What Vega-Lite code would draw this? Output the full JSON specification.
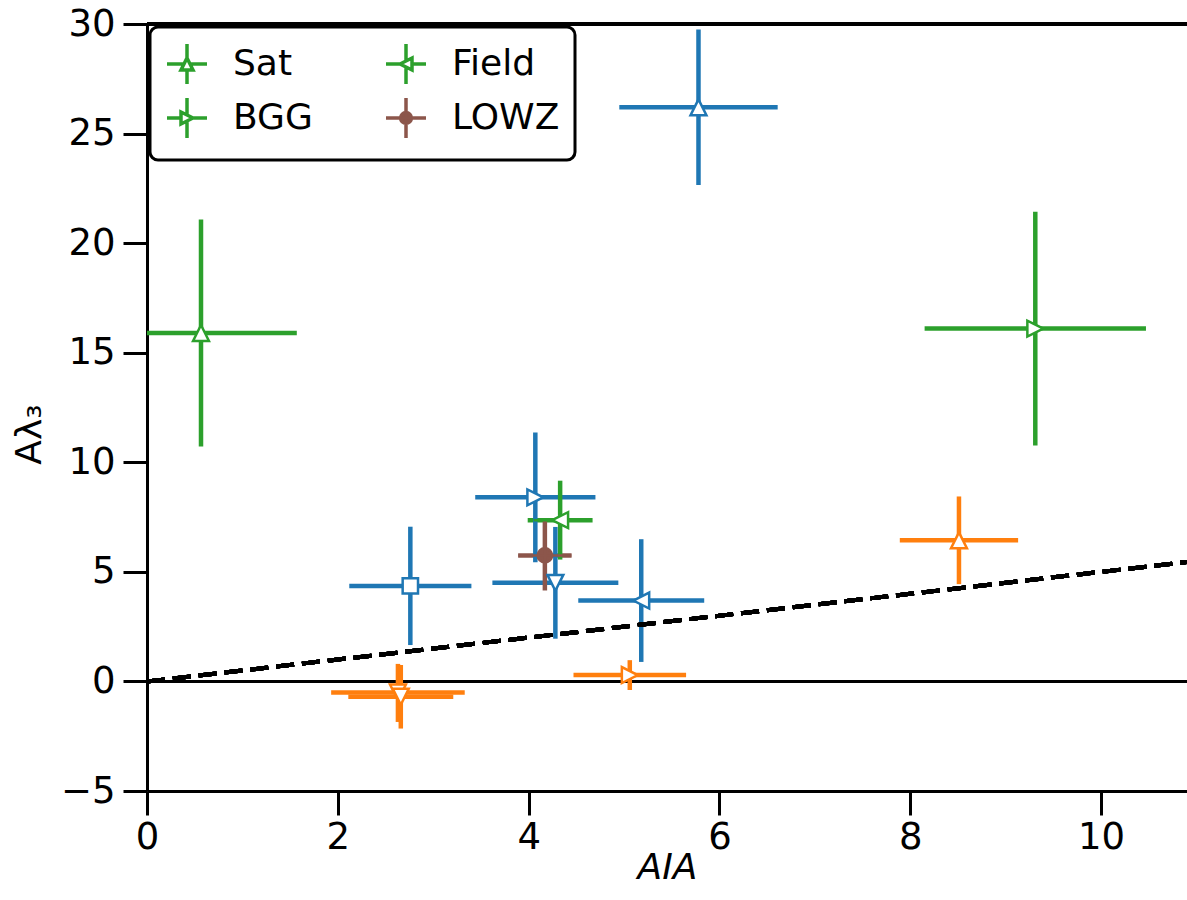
{
  "$schema": "https://vega.github.io/schema/vega-lite/v6.json",
  "autosize": {"type": "none"},
  "padding": {"left": 147, "top": 24, "right": 0, "bottom": 109},
  "width": 1040,
  "height": 767,
  "background": "white",
  "config": {
    "view": {"stroke": null},
    "font": "DejaVu Sans",
    "axis": {
      "grid": false,
      "labelFlush": false,
      "domainColor": "black",
      "domainWidth": 3,
      "tickColor": "black",
      "tickWidth": 3,
      "tickSize": 24,
      "labelFont": "DejaVu Sans",
      "labelFontSize": 37,
      "labelColor": "black",
      "titleFont": "DejaVu Sans",
      "titleFontSize": 36,
      "titleFontWeight": "normal",
      "titleColor": "black"
    },
    "legend": {"strokeWidth": 3}
  },
  "data": {
    "values": [
      {"lab": "b_up", "x": 5.78, "y": 26.2, "xlo": 4.95, "xhi": 6.61, "ylo": 22.65, "yhi": 29.75},
      {"lab": "b_sq", "x": 2.76, "y": 4.36, "xlo": 2.12, "xhi": 3.4, "ylo": 1.66, "yhi": 7.06},
      {"lab": "b_right", "x": 4.07, "y": 8.4, "xlo": 3.44, "xhi": 4.7, "ylo": 5.44, "yhi": 11.36},
      {"lab": "b_down", "x": 4.28, "y": 4.5, "xlo": 3.62, "xhi": 4.94, "ylo": 1.95, "yhi": 7.05},
      {"lab": "b_left", "x": 5.18, "y": 3.69, "xlo": 4.52, "xhi": 5.84, "ylo": 0.89, "yhi": 6.49},
      {"lab": "o_up", "x": 8.51, "y": 6.44, "xlo": 7.89, "xhi": 9.13, "ylo": 4.44, "yhi": 8.44},
      {"lab": "o_right", "x": 5.06, "y": 0.29, "xlo": 4.47, "xhi": 5.65, "ylo": -0.39, "yhi": 0.97},
      {"lab": "o_down", "x": 2.63, "y": -0.5, "xlo": 1.93, "xhi": 3.33, "ylo": -1.85, "yhi": 0.8},
      {"lab": "o_down", "x": 2.66, "y": -0.7, "xlo": 2.11, "xhi": 3.21, "ylo": -2.15, "yhi": 0.75},
      {"lab": "Sat", "x": 0.566, "y": 15.9, "xlo": -0.43, "xhi": 1.57, "ylo": 10.72, "yhi": 21.08},
      {"lab": "BGG", "x": 9.31, "y": 16.1, "xlo": 8.15, "xhi": 10.47, "ylo": 10.77, "yhi": 21.43},
      {"lab": "Field", "x": 4.33, "y": 7.36, "xlo": 3.99, "xhi": 4.67, "ylo": 5.56, "yhi": 9.16},
      {"lab": "LOWZ", "x": 4.17, "y": 5.75, "xlo": 3.89, "xhi": 4.45, "ylo": 4.15, "yhi": 7.35}
    ]
  },
  "layer": [
    {
      "mark": {"type": "rule", "color": "black", "strokeWidth": 2},
      "encoding": {"y": {"datum": 0, "type": "quantitative"}}
    },
    {
      "mark": {"type": "rule", "color": "black", "strokeWidth": 3},
      "encoding": {"y": {"datum": 30, "type": "quantitative"}}
    },
    {
      "mark": {"type": "rule", "strokeWidth": 4.5, "strokeCap": "butt", "clip": true},
      "encoding": {
        "x": {"field": "xlo", "type": "quantitative", "scale": {"domain": [0, 10.9], "nice": false, "zero": false},
          "axis": {"values": [0, 2, 4, 6, 8, 10], "format": "d", "title": "AIA", "titleFontStyle": "italic", "labelPadding": 4, "titlePadding": -5}},
        "x2": {"field": "xhi"},
        "y": {"field": "y", "type": "quantitative", "scale": {"domain": [-5, 30], "nice": false, "zero": false},
          "axis": {"values": [-5, 0, 5, 10, 15, 20, 25, 30], "format": "d", "title": "Aλ₃", "labelPadding": 8, "titlePadding": 12, "titleY": 410}},
        "color": {"field": "lab", "type": "nominal", "legend": null,
          "scale": {"domain": ["b_up", "b_sq", "b_right", "b_down", "b_left", "o_up", "o_right", "o_down", "Sat", "Field", "BGG", "LOWZ"],
            "range": ["#1f77b4", "#1f77b4", "#1f77b4", "#1f77b4", "#1f77b4", "#ff7f0e", "#ff7f0e", "#ff7f0e", "#2ca02c", "#2ca02c", "#2ca02c", "#8c564b"]}}
      }
    },
    {
      "mark": {"type": "rule", "strokeWidth": 4.5, "strokeCap": "butt", "clip": true},
      "encoding": {
        "x": {"field": "x", "type": "quantitative"},
        "y": {"field": "ylo", "type": "quantitative"},
        "y2": {"field": "yhi"},
        "color": {"field": "lab", "type": "nominal", "legend": null}
      }
    },
    {
      "mark": {"type": "point", "size": 2800, "strokeWidth": 2.5, "opacity": 1},
      "encoding": {
        "x": {"field": "x", "type": "quantitative"},
        "y": {"field": "y", "type": "quantitative"},
        "stroke": {"field": "lab", "type": "nominal",
          "scale": {"domain": ["Sat", "Field", "BGG", "LOWZ", "b_up", "b_sq", "b_right", "b_down", "b_left", "o_up", "o_right", "o_down"],
            "range": ["#2ca02c", "#2ca02c", "#2ca02c", "#8c564b", "#1f77b4", "#1f77b4", "#1f77b4", "#1f77b4", "#1f77b4", "#ff7f0e", "#ff7f0e", "#ff7f0e"]}},
        "fill": {"field": "lab", "type": "nominal",
          "scale": {"domain": ["Sat", "Field", "BGG", "LOWZ", "b_up", "b_sq", "b_right", "b_down", "b_left", "o_up", "o_right", "o_down"],
            "range": ["white", "white", "white", "#8c564b", "white", "white", "white", "white", "white", "white", "white", "white"]}},
        "shape": {"field": "lab", "type": "nominal",
          "scale": {"domain": ["Sat", "Field", "BGG", "LOWZ", "b_up", "b_sq", "b_right", "b_down", "b_left", "o_up", "o_right", "o_down"],
            "range": [
              "M-1,0L-0.15,0M0.15,0L1,0M0,-1L0,-0.3M0,0.3L0,1M0,-0.3L0.3,0.3L-0.3,0.3Z",
              "M-1,0L-0.3,0M0.3,0L1,0M0,-1L0,-0.15M0,0.15L0,1M-0.3,0L0.3,-0.3L0.3,0.3Z",
              "M-1,0L-0.3,0M0.3,0L1,0M0,-1L0,-0.15M0,0.15L0,1M0.3,0L-0.3,0.3L-0.3,-0.3Z",
              "M-1,0L1,0M0,-1L0,1M0.27,0A0.27,0.27,0,1,1,-0.27,0A0.27,0.27,0,1,1,0.27,0Z",
              "M0,-0.3L0.3,0.3L-0.3,0.3Z",
              "M-0.29,-0.29L0.29,-0.29L0.29,0.29L-0.29,0.29Z",
              "M0.3,0L-0.3,0.3L-0.3,-0.3Z",
              "M0,0.3L0.3,-0.3L-0.3,-0.3Z",
              "M-0.3,0L0.3,-0.3L0.3,0.3Z",
              "M0,-0.3L0.3,0.3L-0.3,0.3Z",
              "M0.3,0L-0.3,0.3L-0.3,-0.3Z",
              "M0,0.3L0.3,-0.3L-0.3,-0.3Z"
            ]},
          "legend": {
            "values": ["Sat", "BGG", "Field", "LOWZ"],
            "title": null,
            "orient": "top-left",
            "offset": 3,
            "columns": 2,
            "columnPadding": 66,
            "rowPadding": 0,
            "padding": 15,
            "fillColor": "white",
            "strokeColor": "black",
            "cornerRadius": 8,
            "symbolSize": 1600,
            "symbolStrokeWidth": 3.5,
            "labelFont": "DejaVu Sans",
            "labelFontSize": 36,
            "labelColor": "black",
            "labelOffset": 24,
            "encode": {"legend": {"update": {"strokeWidth": {"value": 3}, "stroke": {"value": "black"}}}}
          }}
      }
    },
    {
      "mark": {"type": "rule", "color": "black", "strokeWidth": 4, "strokeDash": [18, 8], "strokeCap": "butt"},
      "encoding": {
        "x": {"datum": 0, "type": "quantitative"},
        "y": {"datum": 0, "type": "quantitative"},
        "x2": {"datum": 10.9},
        "y2": {"datum": 5.45}
      }
    }
  ]
}
